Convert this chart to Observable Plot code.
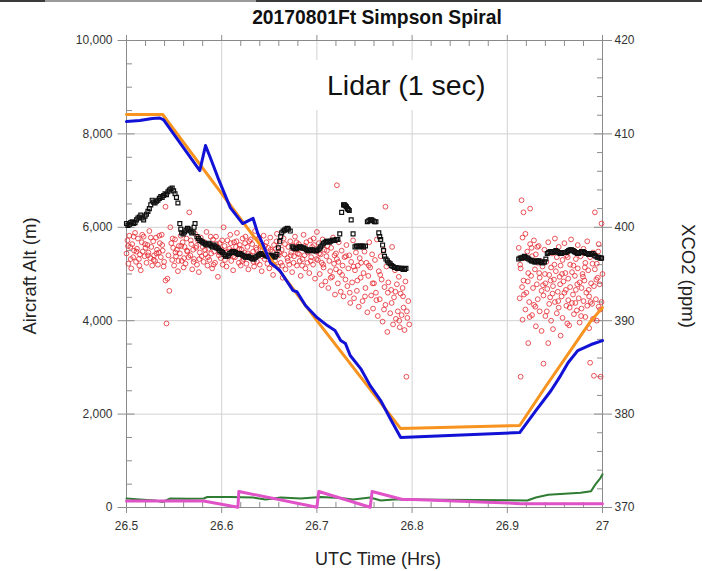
<!DOCTYPE html>
<html><head><meta charset="utf-8">
<script src="https://cdn.jsdelivr.net/npm/d3@7"></script>
<script src="https://cdn.jsdelivr.net/npm/@observablehq/plot@0.6"></script>
<style>
body{margin:0;background:#fff;font-family:"Liberation Sans",Arial,sans-serif;}
#wrap{position:relative;width:702px;height:571px;overflow:hidden;background:#fff}
#wrap svg{position:absolute;left:0;top:0}
.lbl{position:absolute;white-space:nowrap;color:#222;line-height:1}
</style></head><body>
<div id="wrap"></div>
<script>
// ---- axis tick values ----
const xMajor = [26.5, 26.6, 26.7, 26.8, 26.9, 27];
const xMinor = [26.52,26.54,26.56,26.58,26.62,26.64,26.66,26.68,26.72,26.74,26.76,26.78,26.82,26.84,26.86,26.88,26.92,26.94,26.96,26.98];
const xGrid = [26.6, 26.7, 26.8, 26.9];
const altMajor = [0, 2000, 4000, 6000, 8000, 10000];
const altMinor = [500,1000,1500,2500,3000,3500,4500,5000,5500,6500,7000,7500,8500,9000,9500];
const altGrid = [2000, 4000, 6000, 8000];
const ppmMajor = [370, 380, 390, 400, 410, 420];
const ppmMinor = [372,374,376,378,382,384,386,388,392,394,396,398,402,404,406,408,412,414,416,418];

// ---- series: [UTC hr, altitude m] ----
const orangeAlt = [[26.500,8415],[26.538,8415],[26.600,6720],[26.700,4000],[26.788,1690],[26.913,1755],[26.940,2580],[26.988,4000],[27.000,4280]];
const blueAlt = [[26.500,8265],[26.514,8285],[26.527,8330],[26.535,8340],[26.539,8300],[26.577,7215],[26.583,7750],[26.588,7495],[26.596,7065],[26.609,6420],[26.622,6080],[26.633,6190],[26.638,5865],[26.643,5650],[26.651,5245],[26.661,5075],[26.675,4645],[26.679,4620],[26.688,4325],[26.700,4070],[26.711,3895],[26.719,3790],[26.725,3575],[26.730,3510],[26.735,3255],[26.746,2975],[26.756,2610],[26.767,2290],[26.777,1905],[26.788,1500],[26.913,1605],[26.930,2075],[26.946,2505],[26.956,2825],[26.964,3105],[26.974,3360],[26.988,3490],[27.000,3575]];
const greenAlt = [[26.500,193],[26.514,171],[26.530,150],[26.538,120],[26.546,193],[26.567,190],[26.581,193],[26.585,225],[26.609,225],[26.633,214],[26.646,171],[26.662,214],[26.683,193],[26.704,225],[26.725,203],[26.738,171],[26.756,214],[26.767,150],[26.781,171],[26.798,171],[26.921,150],[26.930,215],[26.943,272],[26.960,293],[26.977,315],[26.988,350],[26.993,507],[26.998,636],[27.000,710]];
const magentaAlt = [[26.500,140],[26.581,140],[26.617,5],[26.618,343],[26.700,5],[26.702,343],[26.756,5],[26.758,343],[26.790,171],[26.801,171],[26.901,96],[26.914,82],[27.000,82]];

// ---- XCO2 (ppm), black squares ----
const blackXco2 = [[26.500,400.4],[26.503,400.3],[26.506,400.6],[26.509,400.5],[26.512,401.0],[26.515,401.3],[26.518,400.8],[26.521,401.4],[26.524,402.0],[26.527,402.9],[26.530,402.6],[26.533,402.9],[26.536,403.3],[26.539,403.4],[26.542,403.5],[26.545,404.0],[26.548,404.2],[26.551,403.6],[26.554,402.6],[26.556,400.4],[26.558,399.4],[26.561,399.5],[26.564,399.9],[26.567,399.6],[26.570,399.5],[26.572,400.4],[26.574,399.0],[26.577,398.6],[26.580,398.4],[26.583,398.2],[26.586,398.3],[26.589,398.0],[26.592,398.1],[26.595,397.8],[26.598,397.5],[26.601,397.3],[26.604,396.9],[26.607,397.0],[26.610,397.3],[26.613,397.4],[26.616,397.2],[26.619,397.2],[26.622,397.0],[26.625,396.8],[26.628,396.9],[26.631,396.7],[26.634,396.6],[26.637,396.9],[26.640,397.1],[26.643,397.2],[26.646,397.0],[26.649,396.9],[26.652,397.0],[26.655,396.8],[26.658,397.1],[26.661,398.5],[26.663,399.4],[26.666,399.7],[26.669,399.9],[26.672,399.6],[26.674,397.9],[26.677,397.7],[26.680,397.8],[26.683,397.9],[26.686,397.8],[26.689,397.6],[26.692,397.5],[26.695,397.6],[26.698,397.5],[26.701,397.6],[26.704,397.9],[26.707,398.3],[26.710,398.5],[26.713,398.4],[26.716,398.6],[26.719,398.6],[26.722,398.7],[26.724,399.3],[26.726,401.6],[26.728,402.4],[26.730,402.3],[26.732,402.0],[26.734,401.8],[26.736,400.8],[26.738,399.3],[26.740,397.9],[26.743,398.0],[26.746,398.0],[26.749,397.9],[26.751,398.0],[26.753,400.6],[26.756,400.8],[26.759,400.7],[26.762,400.6],[26.765,399.4],[26.767,398.7],[26.769,398.1],[26.771,396.9],[26.774,396.4],[26.777,396.1],[26.780,395.8],[26.783,395.7],[26.786,395.6],[26.789,395.6],[26.792,395.5],
[26.912,396.6],[26.915,396.7],[26.918,396.9],[26.921,396.7],[26.924,396.5],[26.927,396.4],[26.930,396.3],[26.933,396.4],[26.936,396.2],[26.939,396.3],[26.942,397.2],[26.945,397.4],[26.948,397.3],[26.951,397.5],[26.954,397.3],[26.957,397.2],[26.960,397.3],[26.963,397.4],[26.966,397.6],[26.969,397.5],[26.972,397.3],[26.975,397.2],[26.978,397.4],[26.981,397.3],[26.984,397.2],[26.987,397.1],[26.990,397.2],[26.993,396.9],[26.996,396.8],[26.999,396.7],
[26.5015,400.2],[26.5045,400.5],[26.5075,400.4],[26.5105,400.8],[26.5135,401.1],[26.5165,401.0],[26.5195,401.2],[26.5225,401.7],[26.5255,402.4],[26.5285,402.7],[26.5315,402.8],[26.5345,403.1],[26.5375,403.2],[26.5405,403.6],[26.5435,403.8],[26.5465,404.1],[26.5495,403.9],[26.5525,403.2],[26.5570,399.8],[26.5595,399.3],[26.5625,399.7],[26.5655,399.8],[26.5685,399.4],[26.5710,400.0],[26.5755,398.8],[26.5785,398.5],[26.5815,398.3],[26.5845,398.1],[26.5875,398.2],[26.5905,397.9],[26.5935,397.9],[26.5965,397.7],[26.5995,397.4],[26.6025,397.1],[26.6055,396.9],[26.6085,397.2],[26.6115,397.4],[26.6145,397.3],[26.6175,397.1],[26.6205,397.1],[26.6235,396.9],[26.6265,396.8],[26.6295,396.8],[26.6325,396.6],[26.6355,396.8],[26.6385,397.0],[26.6415,397.2],[26.6445,397.1],[26.6475,396.9],[26.6505,397.0],[26.6535,396.9],[26.6565,396.9],[26.6595,397.8],[26.6620,399.0],[26.6645,399.6],[26.6675,399.8],[26.6700,399.8],[26.6755,397.8],[26.6785,397.7],[26.6815,397.9],[26.6845,397.8],[26.6875,397.7],[26.6905,397.5],[26.6935,397.6],[26.6965,397.5],[26.6995,397.5],[26.7025,397.7],[26.7055,398.1],[26.7085,398.4],[26.7115,398.5],[26.7145,398.5],[26.7175,398.6],[26.7205,398.7],[26.7290,402.4],[26.7310,402.2],[26.7330,401.9],[26.7415,398.0],[26.7445,397.9],[26.7475,398.0],[26.7545,400.7],[26.7575,400.8],[26.7605,400.6],[26.7660,399.0],[26.7700,397.5],[26.7725,396.6],[26.7755,396.2],[26.7785,395.9],[26.7815,395.7],[26.7845,395.6],[26.7875,395.6],[26.7905,395.5],[26.7935,395.6],
[26.9135,396.7],[26.9165,396.8],[26.9195,396.8],[26.9225,396.6],[26.9255,396.4],[26.9285,396.3],[26.9315,396.4],[26.9345,396.3],[26.9375,396.2],[26.9405,396.6],[26.9435,397.3],[26.9465,397.4],[26.9495,397.4],[26.9525,397.4],[26.9555,397.2],[26.9585,397.3],[26.9615,397.3],[26.9645,397.5],[26.9675,397.6],[26.9705,397.4],[26.9735,397.2],[26.9765,397.3],[26.9795,397.4],[26.9825,397.2],[26.9855,397.1],[26.9885,397.2],[26.9915,397.0],[26.9945,396.8],[26.9975,396.7]];

// ---- XCO2 (ppm), red circles ----
const redXco2 = [
[26.500,397.2],[26.501,398.6],[26.502,396.1],[26.503,399.1],[26.504,397.9],[26.505,395.6],
[26.506,398.2],[26.507,396.8],[26.508,397.5],[26.509,399.4],[26.510,396.3],
[26.511,397.7],[26.512,398.8],[26.513,396.6],[26.514,397.1],[26.515,395.4],
[26.516,398.4],[26.517,397.4],[26.518,399.0],[26.519,396.9],[26.520,397.8],
[26.521,396.2],[26.522,398.1],[26.523,397.3],[26.524,399.6],[26.525,396.7],
[26.526,397.9],[26.527,395.9],[26.528,398.5],[26.529,397.0],[26.530,396.4],
[26.531,398.9],[26.532,397.6],[26.533,396.0],[26.534,397.3],[26.535,398.3],
[26.536,396.8],[26.537,399.2],[26.538,397.5],[26.539,395.8],
[26.541,402.2],[26.541,394.3],[26.542,389.7],[26.543,394.5],[26.544,397.0],[26.545,393.2],
[26.546,400.0],[26.547,398.3],[26.548,396.5],[26.549,397.8],[26.550,395.9],
[26.551,398.7],[26.552,396.9],[26.553,397.6],[26.554,395.3],[26.555,398.0],
[26.556,397.2],[26.557,399.1],[26.558,396.4],[26.559,398.4],[26.560,395.7],
[26.561,397.9],[26.562,396.1],[26.563,398.8],[26.564,397.4],[26.565,396.8],
[26.566,401.6],[26.567,397.0],[26.568,398.2],[26.569,395.5],[26.570,397.6],
[26.571,396.6],[26.572,399.3],[26.573,397.8],[26.574,396.0],[26.575,398.6],
[26.576,395.2],[26.577,397.3],[26.578,398.9],[26.579,396.9],[26.580,397.9],
[26.581,396.3],[26.582,398.4],[26.583,397.1],[26.584,399.5],[26.585,395.9],
[26.586,397.7],[26.587,396.5],[26.588,398.1],[26.589,397.2],[26.590,395.6],
[26.591,398.7],[26.592,397.4],[26.593,396.2],[26.594,399.0],[26.595,397.9],
[26.596,394.7],[26.597,397.0],[26.598,398.3],[26.599,396.7],[26.600,397.6],
[26.601,396.0],[26.602,400.0],[26.603,398.0],[26.604,397.3],[26.605,395.8],
[26.606,398.6],[26.607,396.9],[26.608,397.7],[26.609,399.2],[26.610,396.4],
[26.611,397.5],[26.612,395.4],[26.613,398.4],[26.614,396.8],[26.615,397.9],
[26.616,399.4],[26.617,397.1],[26.618,396.2],[26.619,398.1],[26.620,395.9],
[26.621,397.6],[26.622,398.8],[26.623,396.6],[26.624,397.3],[26.625,399.0],
[26.626,396.1],[26.627,397.9],[26.628,395.5],[26.629,398.5],[26.630,397.0],
[26.631,396.7],[26.632,398.2],[26.633,397.4],[26.634,395.8],[26.635,399.6],
[26.636,397.8],[26.637,396.3],[26.638,398.7],[26.639,397.1],[26.640,396.0],
[26.641,398.0],[26.642,395.3],[26.643,397.5],[26.644,399.1],[26.645,396.6],
[26.646,397.2],[26.647,398.4],[26.648,396.1],[26.649,397.8],[26.650,395.6],
[26.651,398.9],[26.652,396.8],[26.653,397.4],[26.654,394.9],[26.655,398.1],
[26.656,396.4],[26.657,397.7],[26.658,399.3],[26.659,395.8],[26.660,397.0],
[26.661,398.3],[26.662,396.2],[26.663,397.6],[26.664,394.6],[26.665,398.8],
[26.666,397.1],[26.667,395.5],[26.668,399.8],[26.669,396.7],[26.670,397.9],
[26.671,396.0],[26.672,398.5],[26.673,397.3],[26.674,395.2],[26.675,398.0],
[26.676,396.9],[26.677,399.0],[26.678,397.6],[26.679,395.9],[26.680,397.2],
[26.681,398.2],[26.682,396.4],[26.683,394.8],[26.684,397.8],[26.685,396.6],
[26.686,399.2],[26.687,397.0],[26.688,395.6],[26.689,398.4],[26.690,396.2],
[26.691,397.5],[26.692,395.1],[26.693,398.6],[26.694,396.8],[26.695,397.9],
[26.696,396.0],[26.697,398.1],[26.698,394.5],[26.699,397.4],[26.700,399.5],
[26.701,396.5],[26.702,398.3],[26.703,395.0],[26.704,397.1],[26.705,393.8],[26.705,396.2],
[26.706,398.7],[26.707,395.7],[26.708,397.6],[26.709,394.2],[26.710,396.9],
[26.711,398.0],[26.712,393.5],[26.713,396.4],[26.714,395.3],[26.715,397.8],
[26.716,394.7],[26.717,398.9],[26.718,396.1],[26.719,392.8],[26.720,397.2],[26.720,395.5],
[26.721,404.5],[26.721,396.6],[26.722,394.0],[26.723,398.4],[26.724,395.2],[26.725,393.1],
[26.726,397.5],[26.727,395.9],[26.728,392.6],[26.729,396.8],[26.730,394.4],
[26.731,398.1],[26.732,393.7],[26.733,395.6],[26.734,397.0],[26.735,391.9],
[26.736,396.3],[26.737,394.1],[26.738,398.6],[26.739,392.4],[26.740,395.4],
[26.741,397.3],[26.742,393.2],[26.743,395.9],[26.744,391.5],[26.745,396.7],
[26.746,394.6],[26.747,398.0],[26.748,392.1],[26.749,395.1],[26.750,397.4],
[26.751,393.5],[26.752,396.2],[26.753,390.9],[26.754,394.8],[26.755,398.4],
[26.756,395.7],[26.757,392.7],[26.758,397.1],[26.759,391.3],[26.760,394.0],
[26.761,396.5],[26.762,393.0],[26.763,398.7],[26.764,390.5],[26.765,395.3],
[26.766,392.3],[26.767,396.9],[26.768,394.4],[26.769,389.9],[26.770,397.6],
[26.771,393.6],[26.772,402.2],[26.772,391.7],[26.773,395.8],[26.774,388.8],[26.775,394.1],
[26.776,396.2],[26.777,390.8],[26.778,393.3],[26.779,397.9],[26.780,389.6],
[26.781,392.5],[26.782,395.4],[26.783,390.2],[26.784,393.9],[26.785,391.0],
[26.786,394.7],[26.787,389.3],[26.788,392.9],[26.789,390.6],[26.790,393.5],
[26.791,391.4],[26.792,389.0],[26.793,394.2],[26.794,384.0],[26.795,390.3],[26.796,392.1],[26.797,389.6],
[26.5015,398.0],[26.5045,396.6],[26.5075,399.0],[26.5105,397.4],[26.5135,395.9],[26.5165,399.2],[26.5195,398.2],[26.5225,397.0],[26.5255,398.9],[26.5285,396.5],[26.5315,397.2],[26.5345,399.1],[26.5375,398.1],[26.5395,396.3],
[26.5485,398.8],[26.5515,397.3],[26.5545,396.4],[26.5575,398.0],[26.5605,396.7],[26.5635,397.5],[26.5675,398.6],[26.5705,396.3],[26.5735,398.0],[26.5765,396.6],[26.5795,398.5],[26.5825,397.6],[26.5855,396.8],[26.5885,399.0],[26.5915,396.0],[26.5945,398.2],[26.5975,397.3],[26.6005,398.6],[26.6035,396.5],[26.6065,397.4],[26.6095,398.3],[26.6125,396.9],[26.6155,398.5],[26.6185,397.7],[26.6215,396.4],[26.6245,398.3],[26.6275,397.2],[26.6305,398.7],[26.6335,396.3],[26.6365,397.6],[26.6395,398.9],[26.6425,396.9],[26.6455,398.0],[26.6485,397.0],[26.6515,397.6],[26.6545,396.0],[26.6575,398.5],[26.6605,397.3],[26.6635,395.9],[26.6665,398.2],[26.6695,396.4],[26.6725,397.0],[26.6755,396.2],[26.6785,398.4],[26.6815,397.1],[26.6845,395.9],[26.6875,398.0],[26.6905,397.3],[26.6935,396.4],[26.6965,398.8],[26.6995,396.6],
[26.7025,397.2],[26.7065,396.0],[26.7105,397.5],[26.7145,394.6],[26.7185,397.0],[26.7225,396.3],[26.7265,394.9],[26.7305,396.9],[26.7345,393.0],[26.7385,395.8],[26.7425,394.3],[26.7465,396.2],[26.7505,392.6],[26.7545,395.9],[26.7585,394.0],[26.7625,392.2],[26.7665,394.9],[26.7705,391.2],[26.7745,393.0],[26.7785,391.9],[26.7825,393.1],[26.7865,390.0],[26.7905,392.6],[26.7945,391.0],
[26.912,397.8],[26.913,392.4],[26.914,384.0],[26.914,395.6],[26.915,402.9],[26.916,390.1],[26.916,398.9],
[26.917,401.6],[26.917,394.3],[26.918,396.7],[26.919,391.2],[26.919,399.3],[26.920,393.0],
[26.921,397.4],[26.922,387.6],[26.922,395.1],[26.923,392.0],[26.924,402.0],[26.924,398.2],
[26.925,394.8],[26.926,390.6],[26.926,396.9],[26.927,393.5],[26.928,398.6],[26.928,391.7],
[26.929,395.5],[26.930,389.4],[26.930,397.1],[26.931,393.9],[26.932,392.3],[26.932,396.2],
[26.933,398.0],[26.934,391.0],[26.934,394.6],[26.935,396.4],[26.936,388.9],[26.936,393.2],
[26.937,395.8],[26.938,385.4],[26.938,392.7],[26.939,397.6],[26.940,394.0],[26.940,390.5],
[26.941,396.3],[26.942,393.4],[26.943,387.6],[26.943,398.4],[26.944,391.8],[26.944,394.9],
[26.945,392.5],[26.946,395.7],[26.946,390.0],[26.947,397.2],[26.948,393.7],[26.948,389.1],
[26.949,394.4],[26.950,398.8],[26.950,392.0],[26.951,395.3],[26.952,390.8],[26.952,396.8],
[26.953,393.1],[26.954,391.4],[26.954,397.9],[26.955,394.7],[26.956,388.4],[26.956,395.9],
[26.957,392.6],[26.958,396.5],[26.958,390.3],[26.959,394.2],[26.960,398.3],[26.960,393.0],
[26.961,395.1],[26.962,391.6],[26.962,397.0],[26.963,389.7],[26.964,394.5],[26.964,392.2],
[26.965,389.5],[26.966,396.0],[26.966,393.6],[26.967,398.7],[26.968,391.9],[26.968,395.2],
[26.969,392.8],[26.970,397.5],[26.970,390.7],[26.971,394.8],[26.972,396.6],[26.972,393.3],
[26.973,391.1],[26.974,395.6],[26.974,398.1],[26.975,392.4],[26.976,394.1],[26.976,389.8],
[26.977,396.9],[26.978,393.5],[26.978,391.3],[26.979,395.0],[26.980,397.7],[26.980,392.1],
[26.981,394.3],[26.982,390.4],[26.982,396.2],[26.983,393.0],[26.984,398.5],[26.984,391.6],
[26.985,395.4],[26.986,392.6],[26.986,389.2],[26.987,385.5],[26.987,396.8],[26.988,394.0],
[26.989,391.8],[26.990,390.2],[26.990,397.3],[26.991,384.1],[26.991,393.7],[26.992,401.6],[26.992,395.5],
[26.993,392.3],[26.994,396.1],[26.994,390.0],[26.995,394.6],[26.996,398.2],[26.996,391.5],
[26.997,393.9],[26.998,384.0],[26.998,396.7],[26.999,400.4],[26.999,392.0],[27.000,395.0],
[26.9135,396.0],[26.9175,392.8],[26.9215,394.2],[26.9255,397.8],[26.9295,391.5],[26.9335,395.1],[26.9375,393.8],[26.9415,391.0],[26.9455,394.3],[26.9495,396.0],[26.9535,392.1],[26.9575,395.0],[26.9615,393.3],[26.9655,391.4],[26.9695,395.9],[26.9735,393.9],[26.9775,390.5],[26.9815,395.7],[26.9855,393.3],[26.9895,396.1],[26.9935,394.4],[26.9975,391.2],[26.9155,393.6],[26.9235,390.4],[26.9315,397.9],[26.9395,395.0],[26.9475,392.9],[26.9555,393.9],[26.9635,396.8],[26.9715,391.9],[26.9795,394.7],[26.9875,392.0],[26.9955,397.4]];

// right axis (XCO2 370–420 ppm) mapped onto the left axis (0–10,000 m)
const toAlt = p => (p - 370) * 200;
const blank = () => "";
const tickGrey = "#8c8c8c";

const chart = Plot.plot({
  width: 702, height: 571,
  marginTop: 40, marginBottom: 64, marginLeft: 126, marginRight: 100,
  style: {fontFamily: "'Liberation Sans', Arial, sans-serif", fontSize: "12px", color: "#333", background: "white"},
  x: {domain: [26.5, 27]},
  y: {domain: [0, 10000]},
  marks: [
    Plot.gridX({ticks: xGrid, stroke: "#d2d2d2", strokeOpacity: 1}),
    Plot.gridY({ticks: altGrid, stroke: "#d2d2d2", strokeOpacity: 1}),
    Plot.frame({stroke: "#8a8a8a"}),
    // bottom axis
    Plot.axisX({anchor: "bottom", ticks: xMajor, tickSize: 6, tickPadding: 8, stroke: tickGrey, tickFormat: d => `${d}`, label: null}),
    Plot.axisX({anchor: "bottom", ticks: xMinor, tickSize: 5, dy: -5, stroke: tickGrey, tickFormat: blank, label: null}),
    // top axis
    Plot.axisX({anchor: "top", ticks: xMajor, tickSize: 6, stroke: tickGrey, tickFormat: blank, label: null}),
    Plot.axisX({anchor: "top", ticks: xMinor, tickSize: 5, dy: 5, stroke: tickGrey, tickFormat: blank, label: null}),
    // left axis
    Plot.axisY({anchor: "left", ticks: altMajor, tickSize: 17, dx: 8.5, stroke: tickGrey, tickFormat: blank, label: null}),
    Plot.axisY({anchor: "left", ticks: altMinor, tickSize: 6, dx: 6, stroke: tickGrey, tickFormat: blank, label: null}),
    Plot.axisY({anchor: "left", ticks: altMajor, tickSize: 0, tickPadding: 14, tickFormat: d3.format(","), label: null}),
    // right axis
    Plot.axisY({anchor: "right", ticks: ppmMajor.map(toAlt), tickSize: 18, dx: -9, stroke: tickGrey, tickFormat: blank, label: null}),
    Plot.axisY({anchor: "right", ticks: ppmMinor.map(toAlt), tickSize: 6, dx: -6, stroke: tickGrey, tickFormat: blank, label: null}),
    Plot.axisY({anchor: "right", ticks: ppmMajor.map(toAlt), tickSize: 0, tickPadding: 12, tickFormat: d => String(Math.round(370 + d / 200)), label: null}),
    // data
    Plot.dot(redXco2, {x: d => d[0], y: d => toAlt(d[1]), r: 2.4, fill: "none", stroke: "#e31e26", strokeOpacity: 0.85, strokeWidth: 0.9}),
    Plot.dot(blackXco2, {x: d => d[0], y: d => toAlt(d[1]), symbol: "square", r: 2.2, fill: "none", stroke: "#111", strokeWidth: 1.2}),
    Plot.line(greenAlt, {x: d => d[0], y: d => d[1], stroke: "#2e7d32", strokeWidth: 2}),
    Plot.line(magentaAlt, {x: d => d[0], y: d => d[1], stroke: "#e052c8", strokeWidth: 3}),
    Plot.line(orangeAlt, {x: d => d[0], y: d => d[1], stroke: "#f7931e", strokeWidth: 3}),
    Plot.line(blueAlt, {x: d => d[0], y: d => d[1], stroke: "#1212d6", strokeWidth: 3})
  ]
});

const wrap = document.getElementById("wrap");
wrap.appendChild(chart);

function addDiv(html, css, cls) {
  const d = document.createElement("div");
  if (cls) d.className = cls;
  d.style.cssText = css;
  d.textContent = html;
  wrap.appendChild(d);
  return d;
}
// screenshot edge at the top
addDiv("", "position:absolute;left:0;top:0;width:702px;height:2px;background:#3a3a3a");
addDiv("", "position:absolute;left:45px;top:0;width:211px;height:2px;background:#9a9a9a");
// title
addDiv("20170801Ft Simpson Spiral", "left:377px;top:8px;transform:translateX(-50%);font-size:19.3px;font-weight:bold;color:#111", "lbl");
// white box with in-plot annotation
addDiv("", "position:absolute;left:305px;top:60px;width:190px;height:50px;background:#fff");
addDiv("Lidar (1 sec)", "left:327px;top:71px;font-size:28.5px;color:#111", "lbl");
// axis titles
addDiv("UTC Time (Hrs)", "left:378px;top:550px;transform:translateX(-50%);font-size:18px", "lbl");
addDiv("Aircraft Alt (m)", "left:30px;top:276px;transform:translate(-50%,-50%) rotate(-90deg);font-size:18.5px", "lbl");
addDiv("XCO2 (ppm)", "left:688px;top:276px;transform:translate(-50%,-50%) rotate(90deg);font-size:18.5px", "lbl");
</script></body></html>
